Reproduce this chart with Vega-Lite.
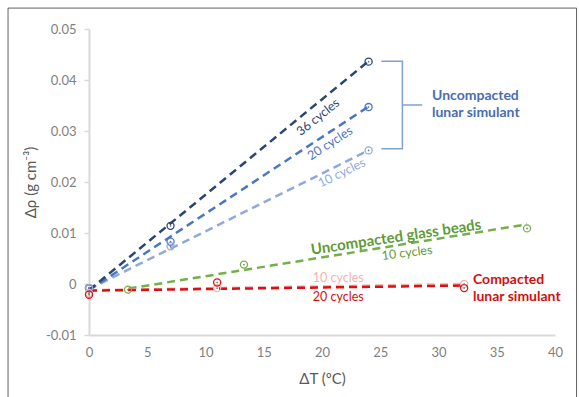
{
  "$schema": "https://vega.github.io/schema/vega-lite/v6.json",
  "width": 466,
  "height": 306,
  "autosize": {"type": "none"},
  "padding": {"left": 89, "top": 29, "right": 24, "bottom": 62},
  "background": "white",
  "config": {"view": {"stroke": null}, "font": "Lato"},
  "datasets": {
    "points": [
      {"s": "36", "t": 0, "d": -0.0008}, {"s": "36", "t": 7, "d": 0.0114}, {"s": "36", "t": 24, "d": 0.0436},
      {"s": "20", "t": 0, "d": -0.0008}, {"s": "20", "t": 7, "d": 0.0083}, {"s": "20", "t": 24, "d": 0.0347},
      {"s": "10", "t": 0, "d": -0.0008}, {"s": "10", "t": 7, "d": 0.0074}, {"s": "10", "t": 24, "d": 0.0262},
      {"s": "glass", "t": 3.35, "d": -0.0011}, {"s": "glass", "t": 13.3, "d": 0.0038}, {"s": "glass", "t": 37.6, "d": 0.0109},
      {"s": "c10", "t": 0, "d": -0.0018}, {"s": "c10", "t": 11, "d": -0.0008}, {"s": "c10", "t": 32.2, "d": 0.0},
      {"s": "c20", "t": 0, "d": -0.0021}, {"s": "c20", "t": 11, "d": 0.0003}, {"s": "c20", "t": 32.2, "d": -0.0008}
    ],
    "lines": [
      {"s": "10", "t": 0, "d": -0.001}, {"s": "10", "t": 24, "d": 0.0262},
      {"s": "20", "t": 0, "d": -0.0012}, {"s": "20", "t": 24, "d": 0.0348},
      {"s": "36", "t": 0, "d": -0.0012}, {"s": "36", "t": 24, "d": 0.0437},
      {"s": "glass", "t": 3.4, "d": -0.0009}, {"s": "glass", "t": 37.6, "d": 0.0117},
      {"s": "c10", "t": 0, "d": -0.0012}, {"s": "c10", "t": 32.2, "d": 0.0},
      {"s": "c20", "t": 0, "d": -0.0013}, {"s": "c20", "t": 32.2, "d": -0.0003}
    ]
  },
  "layer": [
    {
      "data": {"values": [{"x1": -6.95, "x2": 41.85, "y1": 0.0541, "y2": -0.0235}]},
      "mark": {"type": "rect", "fill": null, "stroke": "#606060", "strokeWidth": 1},
      "encoding": {
        "x": {"field": "x1", "type": "quantitative", "scale": {"domain": [0, 40], "nice": false, "zero": false}},
        "x2": {"field": "x2"},
        "y": {"field": "y1", "type": "quantitative", "scale": {"domain": [-0.01, 0.05], "nice": false, "zero": false}},
        "y2": {"field": "y2"}
      }
    },
    {
      "data": {"name": "lines"},
      "mark": {"type": "line", "strokeDash": [8, 5], "strokeWidth": 2.5},
      "encoding": {
        "x": {"field": "t", "type": "quantitative", "scale": {"domain": [0, 40], "nice": false, "zero": false},
          "axis": {"title": "ΔT (ºC)", "values": [0, 5, 10, 15, 20, 25, 30, 35, 40], "grid": false, "ticks": false, "labelFlush": false,
            "domainColor": "#d9d9d9", "domainWidth": 2, "labelColor": "#7f7f7f", "labelFontSize": 13, "labelPadding": 11,
            "titleColor": "#595959", "titleFontSize": 15, "titleFontWeight": "normal", "titlePadding": 12}},
        "y": {"field": "d", "type": "quantitative", "scale": {"domain": [-0.01, 0.05], "nice": false, "zero": false},
          "axis": {"title": "Δρ (g cm⁻³)", "values": [-0.01, 0, 0.01, 0.02, 0.03, 0.04, 0.05], "grid": false, "labelFlush": false,
            "labelExpr": "datum.value == 0 ? '0' : replace(format(datum.value, '.2f'), '−', '-')",
            "tickColor": "#d9d9d9", "tickSize": 5, "tickWidth": 1.5,
            "domainColor": "#d9d9d9", "domainWidth": 2, "labelColor": "#7f7f7f", "labelFontSize": 13, "labelPadding": 8,
            "titleColor": "#595959", "titleFontSize": 15, "titleFontWeight": "normal", "titlePadding": 7}},
        "color": {"field": "s", "type": "nominal", "legend": null,
          "scale": {"domain": ["36", "20", "10", "glass", "c10", "c20"], "range": ["#2a4572", "#4a76c6", "#8eaadc", "#74b04a", "#f4b3b3", "#dc1010"]}},
        "order": {"field": "t"}
      }
    },
    {
      "data": {"name": "points"},
      "mark": {"type": "point", "filled": false, "size": 50, "strokeWidth": 1.3, "opacity": 1},
      "encoding": {
        "x": {"field": "t", "type": "quantitative"},
        "y": {"field": "d", "type": "quantitative"},
        "color": {"field": "s", "type": "nominal", "legend": null}
      }
    },
    {
      "data": {"name": "points"},
      "mark": {"type": "point", "filled": true, "size": 3, "color": "#777777", "opacity": 1},
      "encoding": {
        "x": {"field": "t", "type": "quantitative"},
        "y": {"field": "d", "type": "quantitative"}
      }
    },
    {
      "data": {"values": [
        {"p": "a", "o": 1, "t": 25.1, "d": 0.0437}, {"p": "a", "o": 2, "t": 26.9, "d": 0.0437},
        {"p": "a", "o": 3, "t": 26.9, "d": 0.0265}, {"p": "a", "o": 4, "t": 25.1, "d": 0.0265},
        {"p": "b", "o": 1, "t": 26.9, "d": 0.0351}, {"p": "b", "o": 2, "t": 28.6, "d": 0.0351}
      ]},
      "mark": {"type": "line", "color": "#7f9fd8", "strokeWidth": 1.5},
      "encoding": {
        "x": {"field": "t", "type": "quantitative"},
        "y": {"field": "d", "type": "quantitative"},
        "detail": {"field": "p"},
        "order": {"field": "o"}
      }
    },
    {
      "data": {"values": [{"label": "36 cycles", "t": 19.66, "d": 0.0327}]},
      "mark": {"type": "text", "angle": -39, "fontSize": 12.5, "color": "#2a4572", "baseline": "middle"},
      "encoding": {"x": {"field": "t", "type": "quantitative"}, "y": {"field": "d", "type": "quantitative"}, "text": {"field": "label"}}
    },
    {
      "data": {"values": [{"label": "20 cycles", "t": 20.7, "d": 0.0276}]},
      "mark": {"type": "text", "angle": -33, "fontSize": 12.5, "color": "#4a76c6", "baseline": "middle"},
      "encoding": {"x": {"field": "t", "type": "quantitative"}, "y": {"field": "d", "type": "quantitative"}, "text": {"field": "label"}}
    },
    {
      "data": {"values": [{"label": "10 cycles", "t": 21.7, "d": 0.0218}]},
      "mark": {"type": "text", "angle": -26, "fontSize": 12.5, "color": "#8eaadc", "baseline": "middle"},
      "encoding": {"x": {"field": "t", "type": "quantitative"}, "y": {"field": "d", "type": "quantitative"}, "text": {"field": "label"}}
    },
    {
      "data": {"values": [{"label": "Uncompacted glass beads", "t": 26.35, "d": 0.0092}]},
      "mark": {"type": "text", "angle": -8.5, "fontSize": 15, "fontWeight": "bold", "color": "#5e9a38", "baseline": "middle"},
      "encoding": {"x": {"field": "t", "type": "quantitative"}, "y": {"field": "d", "type": "quantitative"}, "text": {"field": "label"}}
    },
    {
      "data": {"values": [{"label": "10 cycles", "t": 27.3, "d": 0.0061}]},
      "mark": {"type": "text", "angle": -7, "fontSize": 12.5, "color": "#5e9a38", "baseline": "middle"},
      "encoding": {"x": {"field": "t", "type": "quantitative"}, "y": {"field": "d", "type": "quantitative"}, "text": {"field": "label"}}
    },
    {
      "data": {"values": [{"label": "10 cycles", "t": 21.4, "d": 0.0012}]},
      "mark": {"type": "text", "fontSize": 12.5, "color": "#f4b3b3", "baseline": "middle"},
      "encoding": {"x": {"field": "t", "type": "quantitative"}, "y": {"field": "d", "type": "quantitative"}, "text": {"field": "label"}}
    },
    {
      "data": {"values": [{"label": "20 cycles", "t": 21.4, "d": -0.0025}]},
      "mark": {"type": "text", "fontSize": 12.5, "color": "#d01010", "baseline": "middle"},
      "encoding": {"x": {"field": "t", "type": "quantitative"}, "y": {"field": "d", "type": "quantitative"}, "text": {"field": "label"}}
    },
    {
      "data": {"values": [{"label": "Compacted", "t": 32.96, "d": 0.0008}, {"label": "lunar simulant", "t": 32.96, "d": -0.0025}]},
      "mark": {"type": "text", "align": "left", "fontSize": 14, "fontWeight": "bold", "color": "#d01010", "baseline": "middle"},
      "encoding": {"x": {"field": "t", "type": "quantitative"}, "y": {"field": "d", "type": "quantitative"}, "text": {"field": "label"}}
    },
    {
      "data": {"values": [{"label": "Uncompacted", "t": 29.44, "d": 0.0369}, {"label": "lunar simulant", "t": 29.44, "d": 0.0335}]},
      "mark": {"type": "text", "align": "left", "fontSize": 14, "fontWeight": "bold", "color": "#4a6eb0", "baseline": "middle"},
      "encoding": {"x": {"field": "t", "type": "quantitative"}, "y": {"field": "d", "type": "quantitative"}, "text": {"field": "label"}}
    }
  ]
}
